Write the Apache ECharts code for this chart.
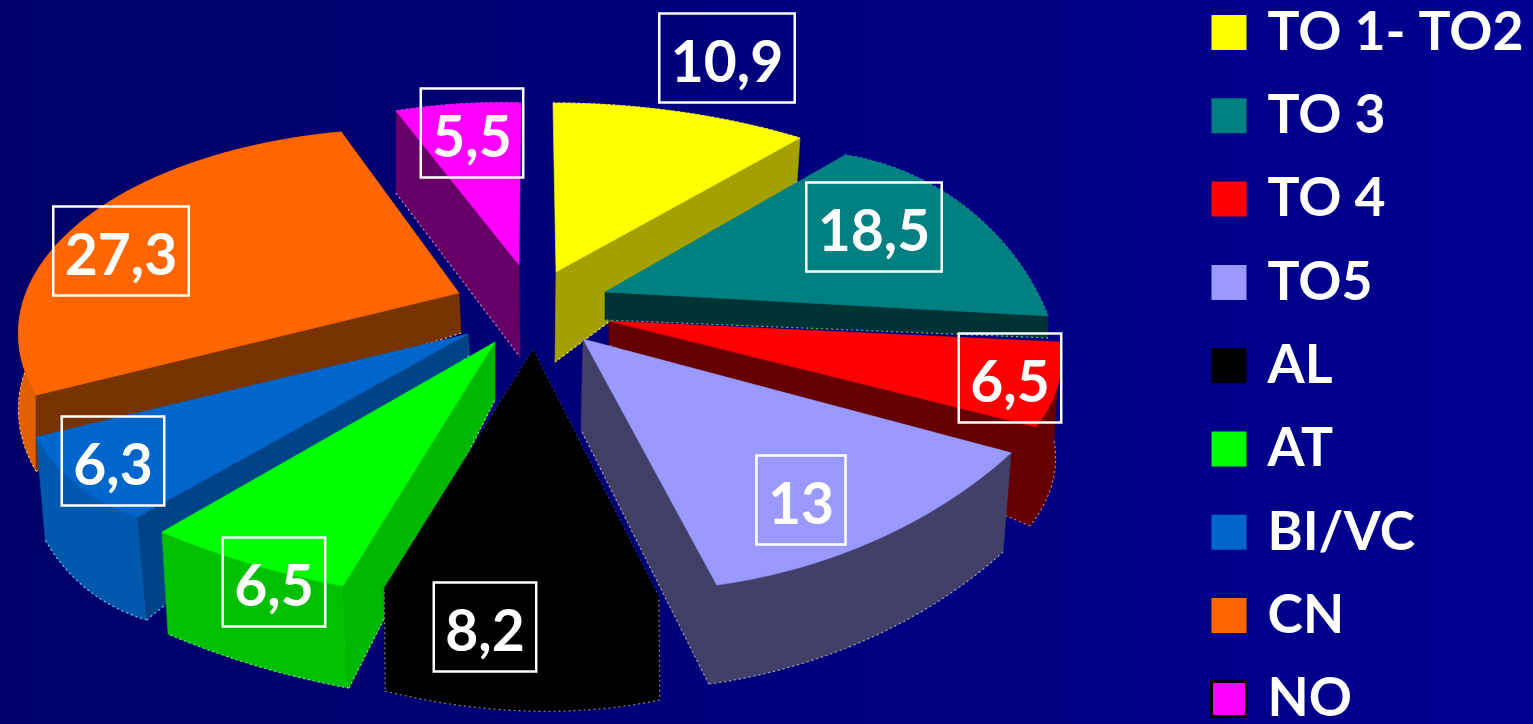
<!DOCTYPE html>
<html>
<head>
<meta charset="utf-8">
<style>html,body{margin:0;padding:0;background:#000080;overflow:hidden}#c{width:1533px;height:724px}</style>
<script src="https://cdn.jsdelivr.net/npm/echarts@6/dist/echarts.min.js"></script>
</head>
<body>
<div id="c"></div>
<script>
// ---- data ----
const categories = ['TO 1- TO2','TO 3','TO 4','TO5','AL','AT','BI/VC','CN','NO'];
const values = [10.9,18.5,6.5,13,8.2,6.5,6.3,27.3,5.5];
const valueLabels = ['10,9','18,5','6,5','13','8,2','6,5','6,3','27,3','5,5'];

// ---- styles ----
const topColors  = ['#ffff00','#008080','#ff0000','#9999ff','#000000','#00ff00','#0066cc','#ff6600','#ff00ff'];
const sideColors = ['#a3a000','#003333','#660000','#404066','#000000','#00b800','#004488','#773300','#660066'];
const wallColors = ['#a3a000','#003333','#660000','#404068','#000000','#00c000','#0059ad','#e06000','#660066'];
const edgeColors = ['#e8e890','#5fb0b0','#c08080','#a0a0b8','#808080','#80e080','#80b8e8','#ffb080','#c090c0'];
const stacking   = [1,4,5,8,9,7,6,3,2];

// Perspective pose of each exploded wedge: the wedge's half-sweep comes from its value.
// a: apex, c: rim centre, r/t: rim radial & tangent vectors, da/dr: extrusion at apex & rim,
// side: visible radial face (-1 start, 1 end, 0 none), wall: outer wall visible, lab: label anchor.
const poses = [
 {a:[556,272],c:[616.5,266],r:[63.5,-154],t:[377.4,53.5],da:[-1,90],dr:[-3,44],side:1,wall:false,lab:[727,58]},
 {a:[605,292],c:[830.4,378.7],r:[137.6,-169.7],t:[189.2,150],da:[0,28],dr:[0,22],side:1,wall:false,lab:[874,227]},
 {a:[609,321],c:[551,360],r:[507,25],t:[-60.7,215],da:[0,24],dr:[-6,99],side:1,wall:true,lab:[1010,378]},
 {a:[583,339],c:[698,282],r:[180,257],t:[-380,170.7],da:[-2,91],dr:[-8,99],side:1,wall:true,lab:[801,500]},
 {a:[533,350],c:[414,114],r:[111,494],t:[-553,-18],da:[0,0],dr:[1,103],side:0,wall:true,lab:[485,627]},
 {a:[495,342],c:[327,310],r:[-76,254],t:[-458,-136.6],da:[0,58],dr:[6,102],side:-1,wall:true,lab:[274,582]},
 {a:[468,334],c:[511,-53],r:[-432,540],t:[-264.7,-208.7],da:[2,21],dr:[9,103],side:-1,wall:true,lab:[113,461]},
 {a:[459,293],c:[420.2,338.7],r:[-345,-112],t:[205.9,-177.5],da:[2,40],dr:[0,76],side:-1,wall:true,lab:[121,251]},
 {a:[519,265],c:[493,315],r:[-35,-211],t:[373,-24],da:[1,92],dr:[0,82],side:-1,wall:false,lab:[472,133]}
];

const total = values.reduce((s,v)=>s+v,0);
const FONT = 'Lato, Carlito, "Open Sans", sans-serif';

function rim(p, halfSweep){
  const pts=[], n=48;
  for(let k=0;k<=n;k++){
    const u=-halfSweep+2*halfSweep*k/n, co=Math.cos(u), si=Math.sin(u);
    pts.push([p.c[0]+p.r[0]*co+p.t[0]*si, p.c[1]+p.r[1]*co+p.t[1]*si]);
  }
  return pts;
}
const shift=(q,d)=>[q[0]+d[0],q[1]+d[1]];
const poly=(points,fill)=>({type:'polygon',shape:{points},style:{fill,stroke:fill,lineWidth:0.6},silent:true});
const edge=(points,stroke)=>({type:'polyline',shape:{points},style:{fill:'none',stroke,lineWidth:1.2,lineDash:[2,3]},silent:true});

function wedge(i){
  return function(params,api){
    const p=poses[i], h=api.value(0)/total*Math.PI, top=rim(p,h);
    const low=top.map(q=>shift(q,p.dr)), apexLow=shift(p.a,p.da);
    const kids=[];
    if(p.wall){
      kids.push(poly(top.concat(low.slice().reverse()),wallColors[i]));
      kids.push(edge(low,edgeColors[i]));
    } else {
      kids.push(edge(top,edgeColors[i]));
    }
    if(p.side){
      const e=p.side<0?0:top.length-1;
      kids.push(poly([p.a,top[e],low[e],apexLow],sideColors[i]));
      kids.push(edge([low[e],apexLow],edgeColors[i]));
    }
    if(i===4){
      kids.push(edge([p.a,top[0],low[0]],edgeColors[i]));
      kids.push(edge([p.a,top[top.length-1],low[low.length-1]],edgeColors[i]));
    }
    kids.push(poly([p.a].concat(top),topColors[i]));
    return {type:'group',children:kids};
  };
}

const series = categories.map((name,i)=>({
  type:'custom', name, coordinateSystem:'none', z:stacking[i]+2,
  itemStyle:{color:topColors[i]}, renderItem:wedge(i), data:[[values[i]]], silent:true, animation:false
}));
series.push({
  type:'custom', name:'labels', coordinateSystem:'none', z:20, silent:true, animation:false,
  data:values.map((v,i)=>[v,i]),
  renderItem(params,api){
    const i=api.value(1), p=poses[i];
    return {type:'text',style:{
      text:valueLabels[i],x:p.lab[0],y:p.lab[1]-44.5,align:'center',verticalAlign:'top',
      font:'bold 57px '+FONT,fill:'#fff',lineHeight:57,padding:[22,11.5,10,11.5],
      borderColor:'#fff',borderWidth:2.5
    }};
  }
});

const chart = echarts.init(document.getElementById('c'),null,{renderer:'canvas'});
chart.setOption({
  animation:false,
  backgroundColor:{type:'linear',x:0,y:0,x2:1,y2:0,colorStops:[{offset:0,color:'#000068'},{offset:1,color:'#000092'}]},
  legend:{
    orient:'vertical',left:1205,top:0.5,height:800,itemWidth:35,itemHeight:35,itemGap:29.3,selectedMode:false,icon:'rect',
    textStyle:{color:'#fff',fontFamily:FONT,fontWeight:'bold',fontSize:53.5,padding:[4,0,0,16]},
    data:categories.map((name,i)=>({name,icon:'rect',itemStyle:{color:topColors[i],borderColor:name==='NO'?'#000':topColors[i],borderWidth:name==='NO'?3:0}}))
  },
  series
});
</script>
</body>
</html>
